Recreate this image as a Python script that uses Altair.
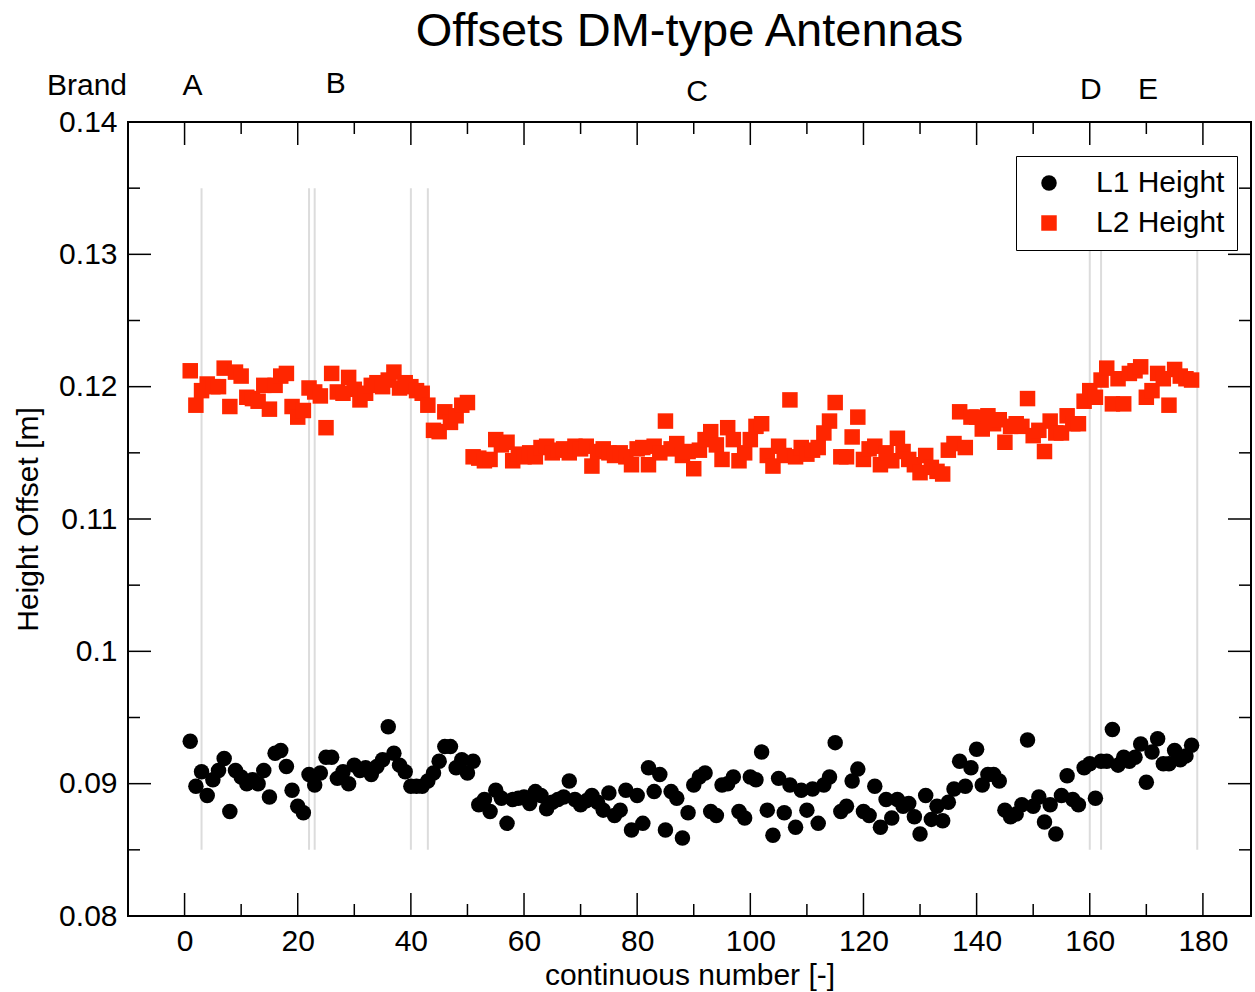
import altair as alt
import pandas as pd

# ---------------- data ----------------
n_values = list(range(1, 179))

l1_height = [
    0.0932, 0.0898, 0.0909, 0.0891, 0.0903, 0.0910, 0.0919, 0.0879, 0.0910, 0.0905,
    0.0900, 0.0903, 0.0900, 0.0910, 0.0890, 0.0923, 0.0925, 0.0913, 0.0895, 0.0883,
    0.0878, 0.0907, 0.0899, 0.0908, 0.0920, 0.0920, 0.0904, 0.0909, 0.0900, 0.0914,
    0.0910, 0.0912, 0.0907, 0.0913, 0.0918, 0.0943, 0.0923, 0.0914, 0.0909, 0.0898,
    0.0898, 0.0898, 0.0902, 0.0908, 0.0917, 0.0928, 0.0928, 0.0912, 0.0918, 0.0908,
    0.0917, 0.0884, 0.0888, 0.0879, 0.0895, 0.0889, 0.0870, 0.0888, 0.0889, 0.0890,
    0.0885, 0.0894, 0.0891, 0.0881, 0.0886, 0.0888, 0.0890, 0.0902, 0.0888, 0.0884,
    0.0887, 0.0891, 0.0886, 0.0880, 0.0893, 0.0876, 0.0880, 0.0895, 0.0865, 0.0891,
    0.0870, 0.0912, 0.0894, 0.0907, 0.0865, 0.0894, 0.0889, 0.0859, 0.0878, 0.0899,
    0.0905, 0.0908, 0.0879, 0.0876, 0.0899, 0.0900, 0.0905, 0.0879, 0.0874, 0.0905,
    0.0903, 0.0924, 0.0880, 0.0861, 0.0904, 0.0878, 0.0899, 0.0867, 0.0895, 0.0880,
    0.0896, 0.0870, 0.0899, 0.0905, 0.0931, 0.0879, 0.0883, 0.0902, 0.0911, 0.0879,
    0.0876, 0.0898, 0.0867, 0.0888, 0.0874, 0.0888, 0.0883, 0.0885, 0.0875, 0.0862,
    0.0891, 0.0873, 0.0883, 0.0872, 0.0886, 0.0896, 0.0917, 0.0898, 0.0912, 0.0926,
    0.0899, 0.0907, 0.0907, 0.0902, 0.0880, 0.0875, 0.0877, 0.0884, 0.0933, 0.0883,
    0.0890, 0.0871, 0.0884, 0.0862, 0.0891, 0.0906, 0.0888, 0.0884, 0.0912, 0.0915,
    0.0889, 0.0917, 0.0917, 0.0941, 0.0914, 0.0920, 0.0917, 0.0920, 0.0930, 0.0901,
    0.0924, 0.0934, 0.0915, 0.0915, 0.0925, 0.0918, 0.0921, 0.0929,
]

l2_height = [
    0.1212, 0.1186, 0.1197, 0.1202, 0.1200, 0.1200, 0.1214, 0.1185, 0.1211, 0.1208,
    0.1192, 0.1191, 0.1189, 0.1201, 0.1183, 0.1201, 0.1208, 0.1210, 0.1185, 0.1177,
    0.1182, 0.1199, 0.1196, 0.1193, 0.1169, 0.1210, 0.1196, 0.1195, 0.1207, 0.1198,
    0.1190, 0.1195, 0.1201, 0.1203, 0.1200, 0.1205, 0.1211, 0.1199, 0.1203, 0.1200,
    0.1197, 0.1195, 0.1186, 0.1167, 0.1166, 0.1181, 0.1173, 0.1178, 0.1186, 0.1188,
    0.1147, 0.1146, 0.1144, 0.1145, 0.1160, 0.1156, 0.1158, 0.1144, 0.1149, 0.1147,
    0.1150, 0.1147, 0.1154, 0.1155, 0.1150, 0.1152, 0.1153, 0.1150, 0.1155, 0.1153,
    0.1155, 0.1140, 0.1151, 0.1153, 0.1150, 0.1148, 0.1150, 0.1147, 0.1141, 0.1153,
    0.1154, 0.1141, 0.1155, 0.1150, 0.1174, 0.1153, 0.1157, 0.1148, 0.1151, 0.1138,
    0.1152, 0.1160, 0.1166, 0.1156, 0.1145, 0.1169, 0.1160, 0.1144, 0.1150, 0.1160,
    0.1170, 0.1172, 0.1148, 0.1140, 0.1155, 0.1148, 0.1190, 0.1147, 0.1154, 0.1149,
    0.1152, 0.1154, 0.1165, 0.1174, 0.1188, 0.1147, 0.1147, 0.1162, 0.1177, 0.1145,
    0.1153, 0.1155, 0.1141, 0.1150, 0.1144, 0.1161, 0.1151, 0.1145, 0.1141, 0.1135,
    0.1148, 0.1139, 0.1136, 0.1134, 0.1152, 0.1157, 0.1181, 0.1154, 0.1177, 0.1177,
    0.1168, 0.1178, 0.1172, 0.1175, 0.1158, 0.1170, 0.1172, 0.1170, 0.1191, 0.1163,
    0.1167, 0.1151, 0.1174, 0.1165, 0.1165, 0.1178, 0.1172, 0.1172, 0.1189, 0.1197,
    0.1192, 0.1205, 0.1214, 0.1187, 0.1206, 0.1187, 0.1210, 0.1212, 0.1215, 0.1192,
    0.1197, 0.1210, 0.1206, 0.1186, 0.1213, 0.1208, 0.1206, 0.1205,
]

series_names = ["L1 Height", "L2 Height"]

brand_letters = ["A", "B", "C", "D", "E"]
brand_x = [1.4, 26.7, 90.6, 160.2, 170.3]

separator_x = [3, 22, 23, 40, 43, 160, 162, 179]
separator_bottom = 0.085
separator_top = 0.135

x_major = [0, 20, 40, 60, 80, 100, 120, 140, 160, 180]
x_minor = [10, 30, 50, 70, 90, 110, 130, 150, 170]
y_major = [0.08, 0.09, 0.10, 0.11, 0.12, 0.13, 0.14]
y_minor = [0.085, 0.095, 0.105, 0.115, 0.125, 0.135]

# ---------------- styles ----------------
FONT = "Liberation Sans"
W, H = 1123, 794
series_colors = ["#000000", "#ff2600"]
series_shapes = ["circle", "square"]
brand_y_px = [-27, -29, -21, -23, -23]
MAJ, MIN = 23, 12

df = pd.DataFrame({
    "n": n_values * 2,
    "offset": l1_height + l2_height,
    "series": [series_names[0]] * len(l1_height) + [series_names[1]] * len(l2_height),
})

xs = alt.Scale(domain=[-10, 188.5], nice=False, zero=False)
ys = alt.Scale(domain=[0.08, 0.14], nice=False, zero=False)

legend = alt.Legend(
    title=None, orient="none", legendX=888, legendY=34,
    padding=12, symbolOffset=6, labelOffset=32, rowPadding=10,
    strokeColor="black", fillColor="white", symbolSize=240,
    labelFontSize=30, labelFont=FONT, labelColor="black",
    symbolStrokeWidth=0, symbolOpacity=1,
)

points = alt.Chart(df).mark_point(filled=True, size=240, opacity=1).encode(
    x=alt.X("n:Q", scale=xs, axis=alt.Axis(
        values=x_major, title="continuous number [-]", grid=False, ticks=False,
        domain=False, labelPadding=10, titlePadding=4, format="d")),
    y=alt.Y("offset:Q", scale=ys, axis=alt.Axis(
        values=y_major, format=".2~f", title="Height Offset [m]", grid=False,
        ticks=False, domain=False, labelPadding=11, titlePadding=15)),
    color=alt.Color("series:N", scale=alt.Scale(domain=series_names, range=series_colors), legend=legend),
    shape=alt.Shape("series:N", scale=alt.Scale(domain=series_names, range=series_shapes), legend=legend),
)

seps = alt.Chart(pd.DataFrame({
    "n": separator_x,
    "offset": [separator_bottom] * len(separator_x),
    "offset_top": [separator_top] * len(separator_x),
})).mark_rule(color="#dcdcdc", strokeWidth=2).encode(
    x=alt.X("n:Q", scale=xs),
    y=alt.Y("offset:Q", scale=ys),
    y2="offset_top:Q",
)

layers = [seps, points]

# inward ticks on all four sides
for vals, length in ((x_major, MAJ), (x_minor, MIN)):
    d = pd.DataFrame({"n": vals})
    layers.append(alt.Chart(d).mark_rule(color="black", strokeWidth=1.5).encode(
        x=alt.X("n:Q", scale=xs), y=alt.value(H), y2=alt.value(H - length)))
    layers.append(alt.Chart(d).mark_rule(color="black", strokeWidth=1.5).encode(
        x=alt.X("n:Q", scale=xs), y=alt.value(0), y2=alt.value(length)))
for vals, length in ((y_major, MAJ), (y_minor, MIN)):
    d = pd.DataFrame({"offset": vals})
    layers.append(alt.Chart(d).mark_rule(color="black", strokeWidth=1.5).encode(
        y=alt.Y("offset:Q", scale=ys), x=alt.value(0), x2=alt.value(length)))
    layers.append(alt.Chart(d).mark_rule(color="black", strokeWidth=1.5).encode(
        y=alt.Y("offset:Q", scale=ys), x=alt.value(W), x2=alt.value(W - length)))

# brand annotations above the plot
for letter, bx, by in zip(brand_letters, brand_x, brand_y_px):
    layers.append(alt.Chart(pd.DataFrame({"n": [bx], "label": [letter]})).mark_text(
        font=FONT, fontSize=30, color="black", align="center", baseline="alphabetic").encode(
        x=alt.X("n:Q", scale=xs), y=alt.value(by), text="label:N"))
layers.append(alt.Chart(pd.DataFrame({"label": ["Brand"]})).mark_text(
    font=FONT, fontSize=30, color="black", align="center", baseline="alphabetic").encode(
    x=alt.value(-41), y=alt.value(-27), text="label:N"))

chart = alt.layer(*layers).properties(
    width=W, height=H,
    title=alt.TitleParams("Offsets DM-type Antennas", font=FONT, fontSize=47,
                          fontWeight="normal", color="black", anchor="middle",
                          frame="group", offset=13),
    autosize=alt.AutoSizeParams(type="none"),
    padding={"left": 128, "top": 122, "right": 4, "bottom": 76},
).configure_view(
    stroke="black", strokeWidth=2
).configure_axis(
    labelFont=FONT, labelFontSize=30, labelColor="black",
    titleFont=FONT, titleFontSize=30, titleFontWeight="normal", titleColor="black",
)

chart.save("out.html", embed_options={"renderer": "svg", "actions": False})
